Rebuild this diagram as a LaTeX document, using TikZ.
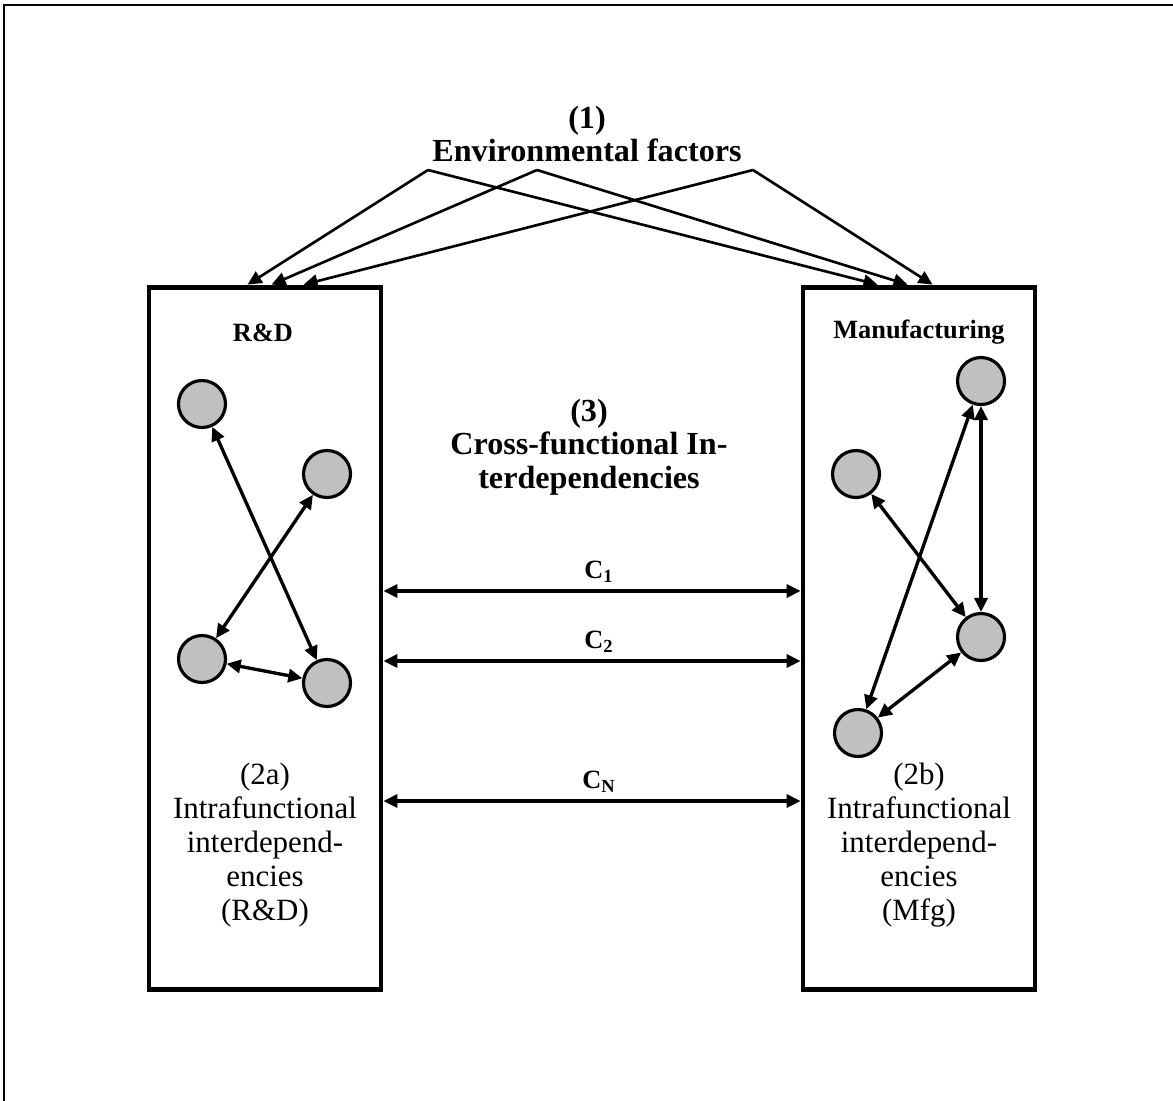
\documentclass[tikz,border=0pt]{standalone}
\usepackage{fontspec}
\setmainfont{Liberation Serif}
\usetikzlibrary{arrows.meta,calc}
\definecolor{dotgray}{RGB}{192,192,192}
\begin{document}
\begin{tikzpicture}[x=0.02cm,y=-0.02cm,
  dbl/.style={{Triangle[length=8pt,width=7.5pt]}-{Triangle[length=8pt,width=7.5pt]}, line width=1.9pt},
  one/.style={-{Triangle[length=8pt,width=7.5pt]}, line width=1.5pt},
  dot/.style={circle, draw, fill=dotgray, line width=1.8pt, minimum size=0.94cm, inner sep=0pt},
  func/.style={draw, line width=2.8pt, minimum width=4.64cm, minimum height=14.06cm, inner sep=0pt},
  head/.style={font=\bfseries\fontsize{18.3pt}{18.6pt}\selectfont, align=center, inner sep=0pt},
  cross/.style={font=\bfseries\fontsize{18.3pt}{19.2pt}\selectfont, align=center, inner sep=0pt},
  fname/.style={font=\bfseries\fontsize{15pt}{16pt}\selectfont, inner sep=0pt},
  intra/.style={font=\fontsize{17.6pt}{19.4pt}\selectfont, align=center, inner sep=0pt},
  clab/.style={font=\bfseries\fontsize{15pt}{16pt}\selectfont, inner sep=0pt}
]
\useasboundingbox (0,0) rectangle (1173,1100);
\clip (0,0) rectangle (1173,1100);
\draw[line width=1.1pt] (4,5) rectangle (1200,1130);

% titles
\node[head] (env) at (587,134) {(1)\\Environmental factors};
\node[cross] (crossf) at (589,447) {(3)\\Cross-functional In-\\terdependencies};

% function boxes
\node[func] (L) at (265,638.5) {};
\node[func] (R) at (919,638.5) {};
\node[fname] (rdlab) at (263,333) {R\&D};
\node[fname] (mfglab) at (919,332) {Manufacturing};

\node[intra] (t2a) at (265,845) {(2a)\\Intrafunctional\\interdepend-\\encies\\(R\&D)};
\node[intra] (t2b) at (919,845) {(2b)\\Intrafunctional\\interdepend-\\encies\\(Mfg)};

% environmental arrows
\coordinate (p1) at (428,170);
\coordinate (p2) at (537,170);
\coordinate (p3) at (753,170);
\draw[one] (p1) -- ($(L.north west)+(101,0)$);
\draw[one] (p2) -- ($(L.north west)+(125,0)$);
\draw[one] (p3) -- ($(L.north west)+(157,0)$);
\draw[one] (p1) -- ($(R.north west)+(77,0)$);
\draw[one] (p2) -- ($(R.north west)+(107,0)$);
\draw[one] (p3) -- ($(R.north west)+(132,0)$);

% R&D nodes
\node[dot] (a) at (202,404) {};
\node[dot] (b) at (327,474) {};
\node[dot] (c) at (202,659) {};
\node[dot] (d) at (327,683) {};
\draw[dbl] (a) -- (d);
\draw[dbl] (b) -- (c);
\draw[dbl] (c) -- (d);

% Manufacturing nodes
\node[dot] (e) at (981,381) {};
\node[dot] (f) at (856,474) {};
\node[dot] (g) at (981,637) {};
\node[dot] (h) at (858,733) {};
\draw[dbl] (e) -- (h);
\draw[dbl] (e) -- (g);
\draw[dbl] (f) -- (g);
\draw[dbl] (g) -- (h);

% cross-functional arrows
\node[clab] (c1l) at (599,572) {C\textsubscript{1}};
\node[clab] (c2l) at (599,642) {C\textsubscript{2}};
\node[clab] (cnl) at (599,782) {C\textsubscript{N}};
\coordinate (y1) at (590,591);
\coordinate (y2) at (590,661);
\coordinate (yn) at (590,801);
\draw[dbl] (L.east |- y1) -- (R.west |- y1);
\draw[dbl] (L.east |- y2) -- (R.west |- y2);
\draw[dbl] (L.east |- yn) -- (R.west |- yn);
\end{tikzpicture}
\end{document}
